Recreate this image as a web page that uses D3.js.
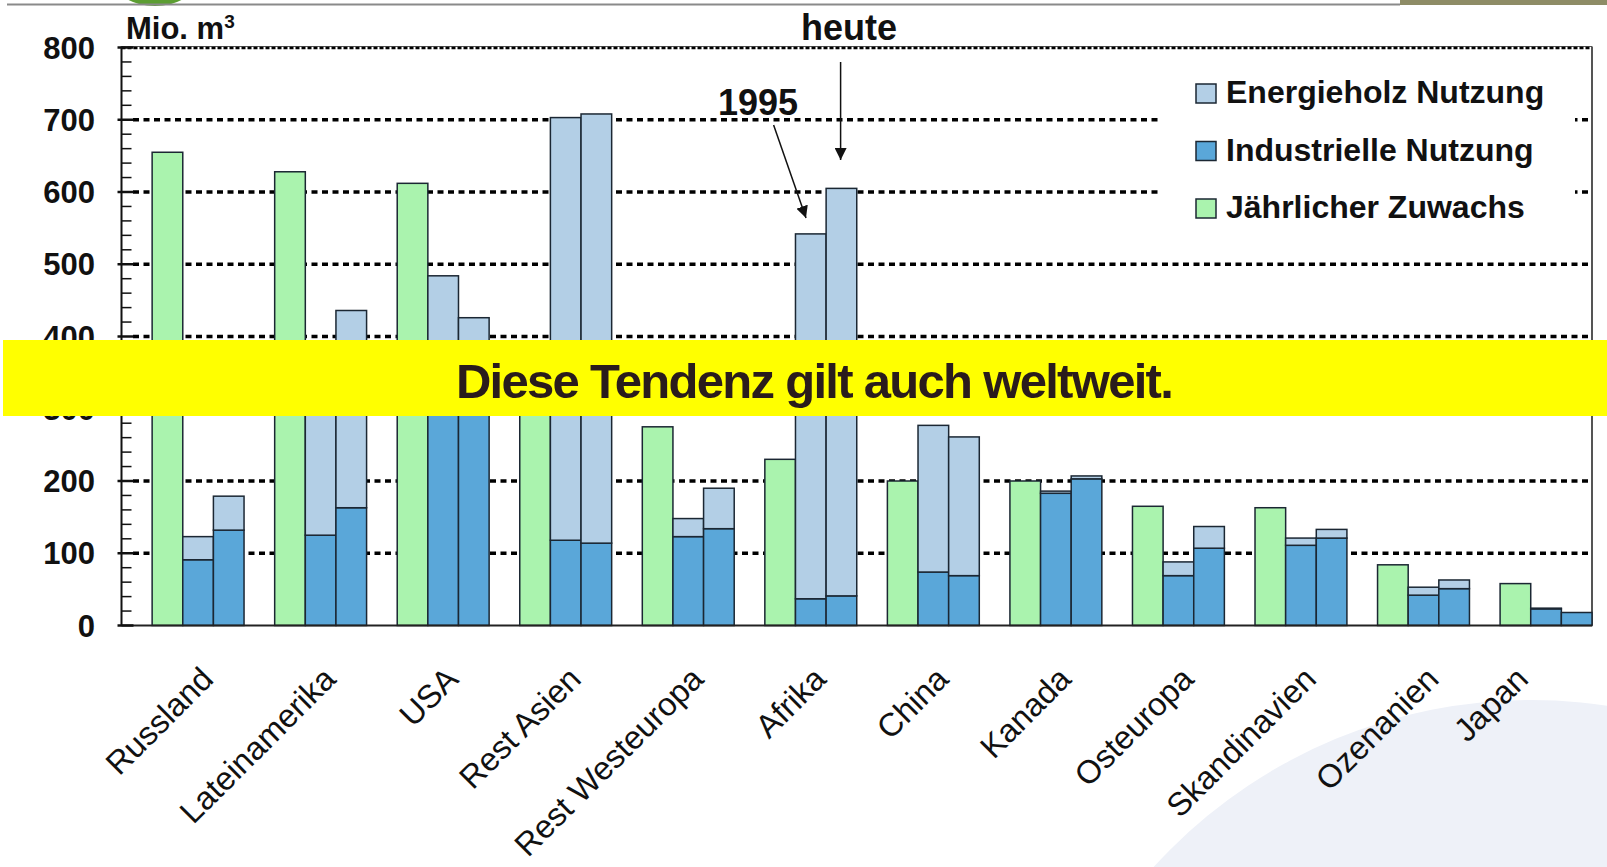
<!DOCTYPE html>
<html><head><meta charset="utf-8">
<script src="https://cdn.jsdelivr.net/npm/d3@7"></script>
<style>
html,body{margin:0;padding:0;background:#fff;}
svg{display:block;font-family:"Liberation Sans",Arial,sans-serif;}
</style></head>
<body>
<svg id="chart" width="1607" height="867"></svg>
<script>
const categories = ["Russland","Lateinamerika","USA","Rest Asien","Rest Westeuropa","Afrika","China","Kanada","Osteuropa","Skandinavien","Ozenanien","Japan"];
const zuwachs = [655, 628, 612, 340, 275, 230, 200, 200, 165, 163, 84, 58];
const industrie1995 = [91, 125, 390, 118, 123, 37, 74, 183, 69, 111, 42, 23];
const energie1995 = [32, 245, 94, 585, 25, 505, 203, 3, 19, 10, 11, 1];
const industrieHeute = [132, 163, 380, 114, 134, 41, 69, 203, 107, 121, 51, 18];
const energieHeute = [47, 273, 46, 594, 56, 564, 192, 4, 30, 12, 12, 0];
const yTicks = [0, 100, 200, 300, 400, 500, 600, 700, 800];
const legendLabels = ["Energieholz Nutzung", "Industrielle Nutzung", "Jährlicher Zuwachs"];

const C_GREEN = "#aaf3ae", C_LIGHT = "#b3cfe6", C_DARK = "#5aa7d9", C_STROKE = "#1b2733";

const svg = d3.select("#chart");

// background decorations
svg.append("circle").attr("cx", 1531).attr("cy", 1210).attr("r", 510).attr("fill", "#eef1f8");
svg.append("ellipse").attr("cx", 155).attr("cy", -18).attr("rx", 40).attr("ry", 24).attr("fill", "#5c9e32");
svg.append("line").attr("x1", 7).attr("x2", 1400).attr("y1", 4.5).attr("y2", 4.5).attr("stroke", "#8a8a8a").attr("stroke-width", 2);
svg.append("rect").attr("x", 1400).attr("y", 0).attr("width", 207).attr("height", 5).attr("fill", "#8e8c66");

const L = 121.5, R = 1592, T = 47.5, B = 625.5;
const y = d3.scaleLinear().domain([0, 800]).range([B, T]);
const x0 = d3.scaleBand().domain(categories).range([L, R]).padding(0);
const x1 = d3.scaleBand().domain(["gap", "zuwachs", "y1995", "heute"]).range([0, x0.bandwidth()]).padding(0);

// gridlines
svg.append("g").selectAll("line").data(yTicks.filter(v => v > 0 && v < 800)).join("line")
  .attr("x1", 133).attr("x2", R).attr("y1", d => y(d)).attr("y2", d => y(d))
  .attr("stroke", "#000").attr("stroke-width", 3.5).attr("stroke-dasharray", "6,4.5");
// top border (800)
svg.append("line").attr("x1", L).attr("x2", R).attr("y1", y(800) - 1).attr("y2", y(800) - 1)
  .attr("stroke", "#555").attr("stroke-width", 1);
svg.append("line").attr("x1", L).attr("x2", R).attr("y1", y(800) + 0.5).attr("y2", y(800) + 0.5)
  .attr("stroke", "#000").attr("stroke-width", 2.5).attr("stroke-dasharray", "4,2");
// right border
svg.append("line").attr("x1", R).attr("x2", R).attr("y1", T - 1).attr("y2", B)
  .attr("stroke", "#555").attr("stroke-width", 2);

// legend background
svg.append("rect").attr("x", 1162).attr("y", 62).attr("width", 413).attr("height", 180).attr("fill", "#fff");

// bars
const groups = svg.append("g").selectAll("g").data(categories).join("g")
  .attr("transform", d => `translate(${x0(d)},0)`);
const bw = x1.bandwidth();
function bar(g, xKey, v0, v1, fill) {
  g.append("rect").attr("x", x1(xKey)).attr("width", bw)
    .attr("y", y(v1)).attr("height", Math.max(0, y(v0) - y(v1)))
    .attr("fill", fill).attr("stroke", C_STROKE).attr("stroke-width", 1.5);
}
groups.each(function(d, i) {
  const g = d3.select(this);
  bar(g, "zuwachs", 0, zuwachs[i], C_GREEN);
  bar(g, "y1995", 0, industrie1995[i], C_DARK);
  if (energie1995[i] > 0) bar(g, "y1995", industrie1995[i], industrie1995[i] + energie1995[i], C_LIGHT);
  bar(g, "heute", 0, industrieHeute[i], C_DARK);
  if (energieHeute[i] > 0) bar(g, "heute", industrieHeute[i], industrieHeute[i] + energieHeute[i], C_LIGHT);
});

// y axis
const ax = svg.append("g");
ax.append("line").attr("x1", L).attr("x2", L).attr("y1", T - 1).attr("y2", B).attr("stroke", "#111").attr("stroke-width", 2);
ax.append("line").attr("x1", L).attr("x2", R).attr("y1", B).attr("y2", B).attr("stroke", "#222").attr("stroke-width", 2);
const minor = d3.range(0, 801, 20).filter(v => v % 100 !== 0);
ax.selectAll("line.minor").data(minor).join("line").attr("class", "minor")
  .attr("x1", L).attr("x2", L + 10).attr("y1", d => y(d)).attr("y2", d => y(d))
  .attr("stroke", "#111").attr("stroke-width", 1.5);
ax.selectAll("line.major").data(yTicks).join("line").attr("class", "major")
  .attr("x1", L - 4).attr("x2", L + 12).attr("y1", d => y(d)).attr("y2", d => y(d))
  .attr("stroke", "#111").attr("stroke-width", 2.5);
ax.selectAll("text").data(yTicks).join("text")
  .attr("x", 95).attr("y", d => y(d)).attr("dy", "0.36em").attr("text-anchor", "end")
  .attr("font-size", 31).attr("font-weight", "bold").attr("fill", "#111").text(d => d);

// unit label
const unit = svg.append("text").attr("x", 126).attr("y", 39).attr("font-size", 31).attr("font-weight", "bold").attr("fill", "#111");
unit.append("tspan").text("Mio. m");
unit.append("tspan").attr("font-size", 19).attr("dy", -11).text("3");

// category labels
svg.append("g").selectAll("text").data(categories).join("text")
  .attr("transform", d => {
    const cx = Math.min(x0(d) + x1("y1995") + bw / 2 + 17, 1530);
    return `translate(${cx},681) rotate(-45)`;
  })
  .attr("text-anchor", "end").attr("font-size", 32.5).attr("fill", "#111").text(d => d);

// legend
const legendColors = [C_LIGHT, C_DARK, C_GREEN];
const lg = svg.append("g").selectAll("g").data(legendLabels).join("g")
  .attr("transform", (d, i) => `translate(1196,${84 + i * 57.5})`);
lg.append("rect").attr("width", 20).attr("height", 19).attr("fill", (d, i) => legendColors[i])
  .attr("stroke", C_STROKE).attr("stroke-width", 1.5);
lg.append("text").attr("x", 30).attr("y", 19).attr("font-size", 32).attr("font-weight", "bold").attr("fill", "#111").text(d => d);

// annotations
const defs = svg.append("defs");
defs.append("marker").attr("id", "ah").attr("viewBox", "0 0 10 10").attr("refX", 10).attr("refY", 5)
  .attr("markerWidth", 12).attr("markerHeight", 12).attr("markerUnits", "userSpaceOnUse").attr("orient", "auto")
  .append("path").attr("d", "M0,0 L10,5 L0,10 Z").attr("fill", "#111");
svg.append("text").attr("x", 849).attr("y", 40).attr("text-anchor", "middle").attr("font-size", 36).attr("font-weight", "bold").attr("fill", "#111").text("heute");
svg.append("text").attr("x", 758).attr("y", 115).attr("text-anchor", "middle").attr("font-size", 36).attr("font-weight", "bold").attr("fill", "#111").text("1995");
svg.append("line").attr("x1", 840.6).attr("y1", 62).attr("x2", 840.6).attr("y2", 160)
  .attr("stroke", "#111").attr("stroke-width", 1.5).attr("marker-end", "url(#ah)");
svg.append("line").attr("x1", 773.6).attr("y1", 125).attr("x2", 806).attr("y2", 218)
  .attr("stroke", "#111").attr("stroke-width", 1.5).attr("marker-end", "url(#ah)");

// banner
svg.append("rect").attr("x", 3).attr("y", 340).attr("width", 1604).attr("height", 76).attr("fill", "#ffff00");
svg.append("text").attr("x", 814).attr("y", 398).attr("text-anchor", "middle").attr("font-size", 49)
  .attr("font-weight", "bold").attr("letter-spacing", -1.7).attr("fill", "#2a1c1c").text("Diese Tendenz gilt auch weltweit.");
</script>
</body></html>
